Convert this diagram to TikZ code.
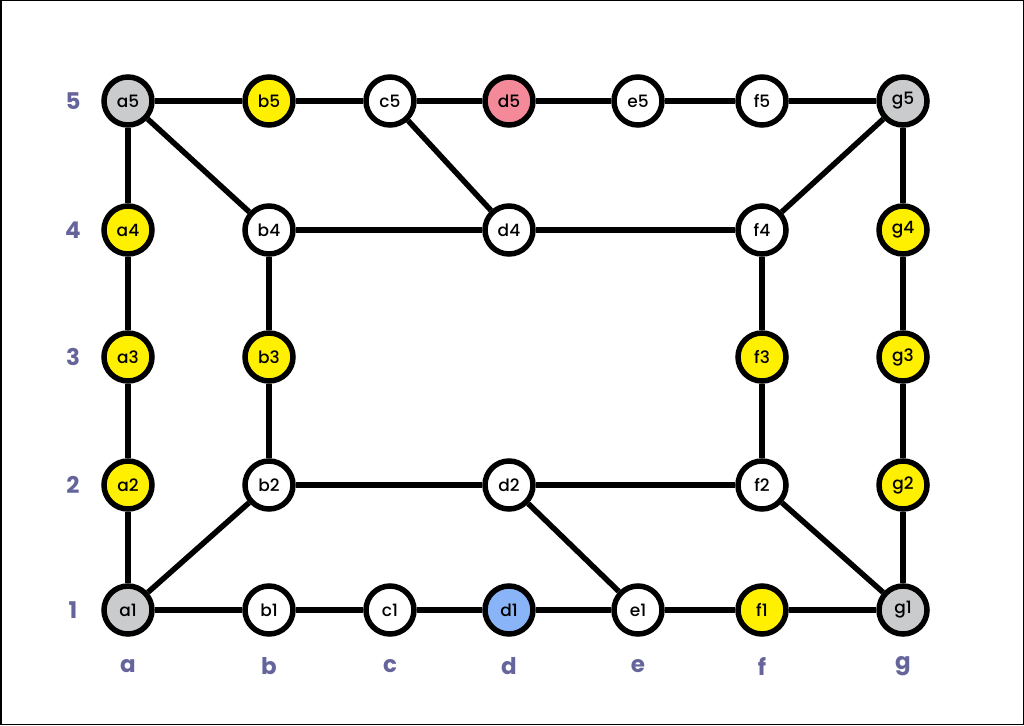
\documentclass[tikz,border=0pt]{standalone}
\usepackage{fontspec}
\setmainfont{Poppins}[UprightFont=* Medium,BoldFont=* Bold]
\definecolor{gfill}{HTML}{C9CBCC}
\definecolor{yfill}{HTML}{FFF000}
\definecolor{pfill}{HTML}{F48A99}
\definecolor{bfill}{HTML}{8AB4F8}
\definecolor{axis}{HTML}{65659C}
\begin{document}
\begin{tikzpicture}[x=1pt,y=-1pt,
  vtx/.style={circle,draw=black,line width=5.5pt,minimum size=48pt,inner sep=0pt,fill=white,font=\fontsize{17}{17}\selectfont},
  gv/.style={vtx,fill=gfill},
  yv/.style={vtx,fill=yfill},
  pv/.style={vtx,fill=pfill},
  bv/.style={vtx,fill=bfill},
  edge/.style={line width=5.5pt,black},
  ax/.style={text=axis,font=\fontsize{23}{23}\selectfont\bfseries}]
\draw[line width=1.5pt] (0.75,0.75) rectangle (1023.25,724.25);
\useasboundingbox (0,0) rectangle (1024,725);
% columns a=128 b=269 c=390 d=509 e=638 f=762 g=903 ; rows 5=101 4=230 3=357 2=485 1=610
\node[gv] (a5) at (128,101) {a5};
\node[yv] (b5) at (269,101) {b5};
\node[vtx] (c5) at (390,101) {c5};
\node[pv] (d5) at (509,101) {d5};
\node[vtx] (e5) at (638,101) {e5};
\node[vtx] (f5) at (762,101) {f5};
\node[gv] (g5) at (903,101) {g5};
\node[yv] (a4) at (128,230) {a4};
\node[vtx] (b4) at (269,230) {b4};
\node[vtx] (d4) at (509,230) {d4};
\node[vtx] (f4) at (762,230) {f4};
\node[yv] (g4) at (903,230) {g4};
\node[yv] (a3) at (128,357) {a3};
\node[yv] (b3) at (269,357) {b3};
\node[yv] (f3) at (762,357) {f3};
\node[yv] (g3) at (903,357) {g3};
\node[yv] (a2) at (128,485) {a2};
\node[vtx] (b2) at (269,485) {b2};
\node[vtx] (d2) at (509,485) {d2};
\node[vtx] (f2) at (762,485) {f2};
\node[yv] (g2) at (903,485) {g2};
\node[gv] (a1) at (128,610) {a1};
\node[vtx] (b1) at (269,610) {b1};
\node[vtx] (c1) at (390,610) {c1};
\node[bv] (d1) at (509,610) {d1};
\node[vtx] (e1) at (638,610) {e1};
\node[yv] (f1) at (762,610) {f1};
\node[gv] (g1) at (903,610) {g1};
\foreach \u/\v in {a5/b5,b5/c5,c5/d5,d5/e5,e5/f5,f5/g5,
  a5/a4,a4/a3,a3/a2,a2/a1,a5/b4,c5/d4,g5/f4,
  g5/g4,g4/g3,g3/g2,g2/g1,b4/d4,d4/f4,b4/b3,b3/b2,f4/f3,f3/f2,
  b2/d2,d2/f2,a1/b2,d2/e1,f2/g1,
  a1/b1,b1/c1,c1/d1,d1/e1,e1/f1,f1/g1}
  \draw[edge] (\u) -- (\v);
\node[ax] (r5) at (73,101) {5};
\node[ax] (r4) at (73,230) {4};
\node[ax] (r3) at (73,357) {3};
\node[ax] (r2) at (73,485) {2};
\node[ax] (r1) at (73,610) {1};
\node[ax] (ca) at (128,666) {a};
\node[ax] (cb) at (269,666) {b};
\node[ax] (cc) at (390,666) {c};
\node[ax] (cd) at (509,666) {d};
\node[ax] (ce) at (638,666) {e};
\node[ax] (cf) at (762,666) {f};
\node[ax] (cg) at (903,666) {g};
\end{tikzpicture}
\end{document}
